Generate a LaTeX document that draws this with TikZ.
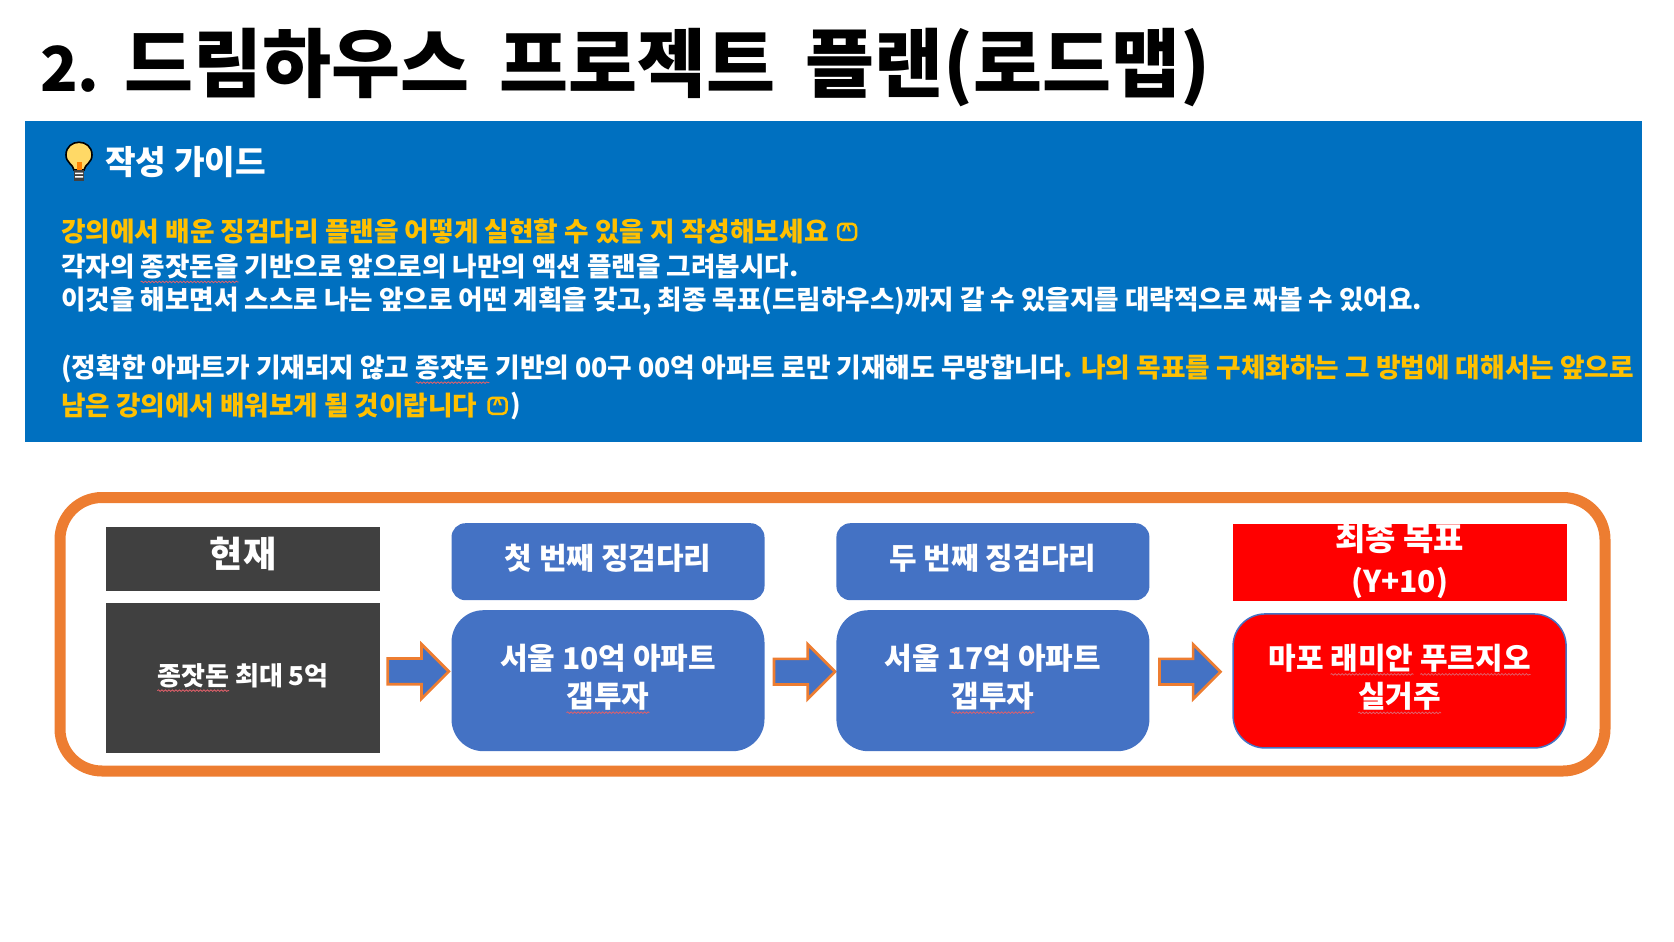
\documentclass[tikz,border=0pt]{standalone}
\usepackage{fontspec}
\setmainfont{Noto Sans CJK KR}
\usetikzlibrary{positioning,shapes.arrows,decorations.pathmorphing}
\definecolor{guideblue}{HTML}{0070C0}
\definecolor{guidegold}{HTML}{FFC000}
\definecolor{stepblue}{HTML}{4472C4}
\definecolor{darkgrey}{HTML}{404040}
\definecolor{frameorange}{HTML}{ED7D31}
\definecolor{squiggle}{HTML}{E0606A}
\newlength{\squiglen}
\newcommand{\squig}[1]{\settowidth{\squiglen}{#1}\leavevmode\rlap{#1}\tikz[overlay,baseline=0pt]\draw[squiggle,sharp corners,line width=0.8pt,decorate,decoration={snake,segment length=3.5pt,amplitude=0.8pt}] (0pt,-5pt) -- (\squiglen,-5pt);\kern\squiglen}
\newcommand{\px}[1]{\fontsize{#1}{38.5}\selectfont\bfseries}
\newcommand{\lift}[2]{\raisebox{#1}{\begin{tabular}{@{}c@{}}#2\end{tabular}}}
\tikzstyle{guideline}=[
	anchor=west,
	inner sep=0pt,
	text=white,
	font=\px{26.6}
]
\tikzstyle{smiley}=[
	draw=guidegold,
	line width=2.5pt,
	rounded corners=4pt,
	minimum width=18pt,
	minimum height=16pt,
	inner sep=0pt,
	text=guidegold,
	font=\px{18}
]
\tikzstyle{darkbox}=[
	rectangle,
	fill=darkgrey,
	text=white,
	minimum width=274.5pt,
	inner sep=0pt
]
\tikzstyle{stephead}=[
	rectangle,
	fill=stepblue,
	text=white,
	rounded corners=14pt,
	minimum width=313pt,
	minimum height=77pt,
	font=\px{30}
]
\tikzstyle{stepbody}=[
	rectangle,
	fill=stepblue,
	text=white,
	rounded corners=32pt,
	minimum width=313pt,
	minimum height=141pt,
	font=\px{30}
]
\tikzstyle{stonearrow}=[
	single arrow,
	draw=frameorange,
	line width=2.7pt,
	fill=stepblue,
	inner xsep=0pt,
	inner ysep=11.5pt,
	minimum height=61pt,
	single arrow head extend=14.5pt
]

\begin{document}
\begin{tikzpicture}[x=1pt,y=1pt]
\useasboundingbox (0,0) rectangle (1674,-942);
\node [anchor=west,inner sep=0pt,font=\px{75}] (title) at (40,-68) {{\fontsize{62}{62}\selectfont 2.}\hspace*{7.5pt} 드림하우스\hspace*{13pt} 프로젝트\hspace*{13pt} 플랜(로드맵)};

% guide panel
\fill [guideblue] (24.6,-120.7) rectangle (1641.5,-442);
\path [draw=black,line width=1.6pt,fill=guidegold!60] (74,-170) .. controls (73,-164) and (66,-163) .. (66,-155) .. controls (66,-138) and (92,-138) .. (92,-155) .. controls (92,-163) and (85,-164) .. (84,-170) -- cycle;
\fill [orange] (77,-162) rectangle (82,-170);
\fill [black!75] (74,-170) rectangle (84,-181);
\fill [white] (75,-172.5) rectangle (83,-174) (75,-176) rectangle (83,-177.5);
\node [guideline,font=\px{33.3}] (guidehead) at (105,-162) {작성 가이드};
\node [guideline,text=guidegold,font=\px{26.7}] (lineA) at (61,-231.8) {강의에서 배운 징검다리 플랜을 어떻게 실현할 수 있을 지 작성해보세요};
\node [smiley] (smileA)[right=8pt of lineA] {\raisebox{-6pt}[0pt][0pt]{\^{}}};
\node [guideline] (lineB) at (61,-267) {각자의 \squig{종잣돈을} 기반으로 앞으로의 나만의 액션 플랜을 그려봅시다.};
\node [guideline] (lineC) at (61,-301.5) {이것을 해보면서 스스로 나는 앞으로 어떤 계획을 갖고, 최종 목표(드림하우스)까지 갈 수 있을지를 대략적으로 짜볼 수 있어요.};
\node [guideline,font=\px{26.7}] (lineD) at (61,-369) {(정확한 아파트가 기재되지 않고 \squig{종잣돈} 기반의 00구 00억 아파트 로만 기재해도 무방합니다\textcolor{guidegold}{. 나의 목표를 구체화하는 그 방법에 대해서는 앞으로}};
\node [guideline,text=guidegold] (lineE) at (61,-405.8) {남은 강의에서 배워보게 될 것이랍니다};
\node [smiley] (smileB)[right=10pt of lineE] {\raisebox{-6pt}[0pt][0pt]{\^{}}};
\node [guideline] (closeparen)[right=2pt of smileB] {)};

% road map
\draw [frameorange,line width=11pt,rounded corners=42pt] (60,-497.5) rectangle (1605,-771);
\node [darkbox,minimum height=64pt,font=\px{36}] (nowhead) at (243,-558.5) {\lift{1pt}{현재}};
\node [darkbox,minimum height=150pt,font=\px{26}] (nowbody)[below=12pt of nowhead] {\lift{3pt}{\squig{종잣돈} 최대 5억}};
\node [stonearrow] (arrowA)[right=6pt of nowbody,yshift=6.5pt] {};
\node [stephead] (headA) at (608,-561.7) {\lift{2pt}{첫 번째 징검다리}};
\node [stepbody] (bodyA)[below=9.6pt of headA] {\lift{4pt}{서울 10억 아파트\\\squig{갭투자}}};
\node [stonearrow] (arrowB)[right=8pt of bodyA,yshift=9pt] {};
\node [stephead] (headB)[right=71.5pt of headA] {\lift{2pt}{두 번째 징검다리}};
\node [stepbody] (bodyB)[below=9.6pt of headB] {\lift{4pt}{서울 17억 아파트\\\squig{갭투자}}};
\node [stonearrow] (arrowC)[right=8.5pt of bodyB,yshift=9pt] {};
\node [rectangle,fill=red,text=white,minimum width=334pt,minimum height=77pt,font=\fontsize{33}{42}\selectfont\bfseries] (headC) at (1399.6,-562.8) {\smash{\lift{-6.5pt}{최종 목표\\\fontsize{30}{42}\selectfont (Y+10)}}};
\node [stepbody,fill=red,draw=stepblue,line width=1.5pt,minimum width=333pt,minimum height=134pt] (bodyC)[below=11.7pt of headC] {\lift{1pt}{마포 \squig{래미안} \squig{푸르지오}\\\squig{실거주}}};
\end{tikzpicture}
\end{document}
